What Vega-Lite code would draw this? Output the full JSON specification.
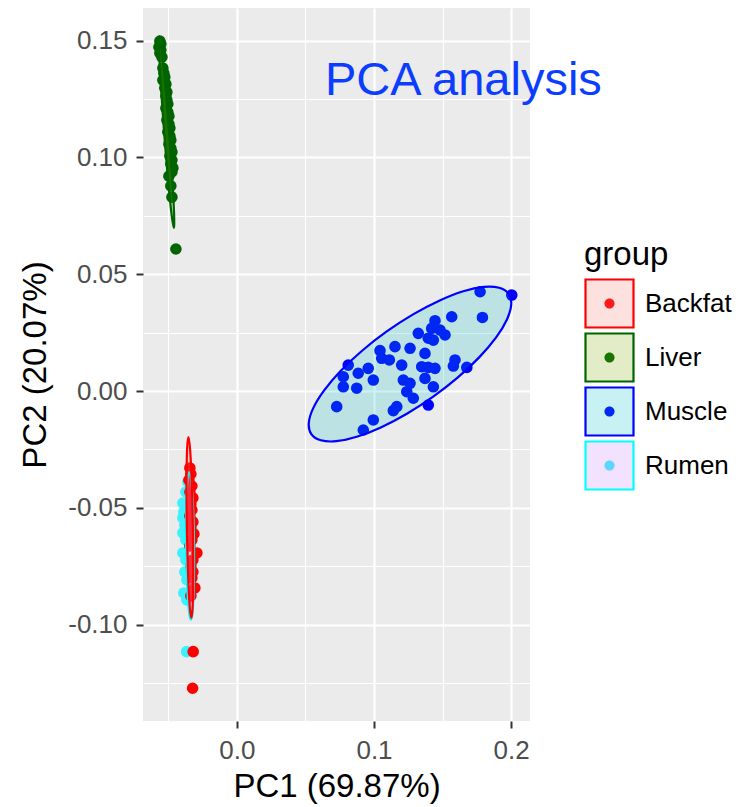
{
  "$schema": "https://vega.github.io/schema/vega-lite/v6.json",
  "width": 387,
  "height": 713,
  "autosize": "none",
  "padding": {"left": 143, "top": 8, "right": 210, "bottom": 86},
  "config": {"view": {"fill": "#EBEBEB", "stroke": null}, "font": "Liberation Sans"},
  "datasets": {
    "points": [
      {"group": "Liver", "PC1": -0.0562, "PC2": 0.1498},
      {"group": "Liver", "PC1": -0.0555, "PC2": 0.1486},
      {"group": "Liver", "PC1": -0.0569, "PC2": 0.1473},
      {"group": "Liver", "PC1": -0.0555, "PC2": 0.1460},
      {"group": "Liver", "PC1": -0.0562, "PC2": 0.1447},
      {"group": "Liver", "PC1": -0.0547, "PC2": 0.1430},
      {"group": "Liver", "PC1": -0.0540, "PC2": 0.1383},
      {"group": "Liver", "PC1": -0.0533, "PC2": 0.1361},
      {"group": "Liver", "PC1": -0.0526, "PC2": 0.1344},
      {"group": "Liver", "PC1": -0.0540, "PC2": 0.1331},
      {"group": "Liver", "PC1": -0.0518, "PC2": 0.1314},
      {"group": "Liver", "PC1": -0.0526, "PC2": 0.1297},
      {"group": "Liver", "PC1": -0.0511, "PC2": 0.1280},
      {"group": "Liver", "PC1": -0.0518, "PC2": 0.1263},
      {"group": "Liver", "PC1": -0.0511, "PC2": 0.1246},
      {"group": "Liver", "PC1": -0.0504, "PC2": 0.1229},
      {"group": "Liver", "PC1": -0.0518, "PC2": 0.1211},
      {"group": "Liver", "PC1": -0.0504, "PC2": 0.1194},
      {"group": "Liver", "PC1": -0.0496, "PC2": 0.1177},
      {"group": "Liver", "PC1": -0.0511, "PC2": 0.1160},
      {"group": "Liver", "PC1": -0.0496, "PC2": 0.1143},
      {"group": "Liver", "PC1": -0.0489, "PC2": 0.1126},
      {"group": "Liver", "PC1": -0.0504, "PC2": 0.1109},
      {"group": "Liver", "PC1": -0.0489, "PC2": 0.1092},
      {"group": "Liver", "PC1": -0.0482, "PC2": 0.1074},
      {"group": "Liver", "PC1": -0.0496, "PC2": 0.1057},
      {"group": "Liver", "PC1": -0.0482, "PC2": 0.1040},
      {"group": "Liver", "PC1": -0.0474, "PC2": 0.1023},
      {"group": "Liver", "PC1": -0.0489, "PC2": 0.1006},
      {"group": "Liver", "PC1": -0.0474, "PC2": 0.0989},
      {"group": "Liver", "PC1": -0.0482, "PC2": 0.0972},
      {"group": "Liver", "PC1": -0.0467, "PC2": 0.0955},
      {"group": "Liver", "PC1": -0.0474, "PC2": 0.0938},
      {"group": "Liver", "PC1": -0.0496, "PC2": 0.0920},
      {"group": "Liver", "PC1": -0.0482, "PC2": 0.0878},
      {"group": "Liver", "PC1": -0.0474, "PC2": 0.0830},
      {"group": "Liver", "PC1": -0.0445, "PC2": 0.0608},
      {"group": "Muscle", "PC1": 0.1774, "PC2": 0.0425},
      {"group": "Muscle", "PC1": 0.2005, "PC2": 0.0411},
      {"group": "Muscle", "PC1": 0.1567, "PC2": 0.0318},
      {"group": "Muscle", "PC1": 0.1791, "PC2": 0.0315},
      {"group": "Muscle", "PC1": 0.1445, "PC2": 0.0301},
      {"group": "Muscle", "PC1": 0.1421, "PC2": 0.0268},
      {"group": "Muscle", "PC1": 0.1482, "PC2": 0.0261},
      {"group": "Muscle", "PC1": 0.1518, "PC2": 0.0240},
      {"group": "Muscle", "PC1": 0.1323, "PC2": 0.0247},
      {"group": "Muscle", "PC1": 0.1396, "PC2": 0.0226},
      {"group": "Muscle", "PC1": 0.1433, "PC2": 0.0218},
      {"group": "Muscle", "PC1": 0.1263, "PC2": 0.0183},
      {"group": "Muscle", "PC1": 0.1372, "PC2": 0.0161},
      {"group": "Muscle", "PC1": 0.1153, "PC2": 0.0190},
      {"group": "Muscle", "PC1": 0.1044, "PC2": 0.0173},
      {"group": "Muscle", "PC1": 0.1056, "PC2": 0.0140},
      {"group": "Muscle", "PC1": 0.1112, "PC2": 0.0133},
      {"group": "Muscle", "PC1": 0.1202, "PC2": 0.0111},
      {"group": "Muscle", "PC1": 0.1591, "PC2": 0.0133},
      {"group": "Muscle", "PC1": 0.1579, "PC2": 0.0107},
      {"group": "Muscle", "PC1": 0.1677, "PC2": 0.0101},
      {"group": "Muscle", "PC1": 0.1348, "PC2": 0.0104},
      {"group": "Muscle", "PC1": 0.1396, "PC2": 0.0101},
      {"group": "Muscle", "PC1": 0.1445, "PC2": 0.0097},
      {"group": "Muscle", "PC1": 0.1372, "PC2": 0.0054},
      {"group": "Muscle", "PC1": 0.0812, "PC2": 0.0111},
      {"group": "Muscle", "PC1": 0.0776, "PC2": 0.0061},
      {"group": "Muscle", "PC1": 0.0885, "PC2": 0.0076},
      {"group": "Muscle", "PC1": 0.0958, "PC2": 0.0097},
      {"group": "Muscle", "PC1": 0.0995, "PC2": 0.0047},
      {"group": "Muscle", "PC1": 0.0776, "PC2": 0.0018},
      {"group": "Muscle", "PC1": 0.0874, "PC2": 0.0012},
      {"group": "Muscle", "PC1": 0.1214, "PC2": 0.0047},
      {"group": "Muscle", "PC1": 0.1263, "PC2": 0.0033},
      {"group": "Muscle", "PC1": 0.1239, "PC2": -0.0003},
      {"group": "Muscle", "PC1": 0.1287, "PC2": -0.0031},
      {"group": "Muscle", "PC1": 0.1433, "PC2": 0.0018},
      {"group": "Muscle", "PC1": 0.1396, "PC2": -0.0060},
      {"group": "Muscle", "PC1": 0.0728, "PC2": -0.0067},
      {"group": "Muscle", "PC1": 0.1166, "PC2": -0.0067},
      {"group": "Muscle", "PC1": 0.1141, "PC2": -0.0084},
      {"group": "Muscle", "PC1": 0.0995, "PC2": -0.0124},
      {"group": "Muscle", "PC1": 0.0922, "PC2": -0.0167},
      {"group": "Rumen", "PC1": -0.03577, "PC2": -0.03896},
      {"group": "Rumen", "PC1": -0.03723, "PC2": -0.04324},
      {"group": "Rumen", "PC1": -0.03942, "PC2": -0.04795},
      {"group": "Rumen", "PC1": -0.03869, "PC2": -0.05180},
      {"group": "Rumen", "PC1": -0.03942, "PC2": -0.05437},
      {"group": "Rumen", "PC1": -0.03796, "PC2": -0.05736},
      {"group": "Rumen", "PC1": -0.03942, "PC2": -0.06079},
      {"group": "Rumen", "PC1": -0.03723, "PC2": -0.06378},
      {"group": "Rumen", "PC1": -0.03942, "PC2": -0.06935},
      {"group": "Rumen", "PC1": -0.03723, "PC2": -0.07235},
      {"group": "Rumen", "PC1": -0.03796, "PC2": -0.07748},
      {"group": "Rumen", "PC1": -0.03650, "PC2": -0.08091},
      {"group": "Rumen", "PC1": -0.03869, "PC2": -0.08647},
      {"group": "Rumen", "PC1": -0.03650, "PC2": -0.08947},
      {"group": "Rumen", "PC1": -0.03672, "PC2": -0.11160},
      {"group": "Backfat", "PC1": -0.03431, "PC2": -0.03296},
      {"group": "Backfat", "PC1": -0.03358, "PC2": -0.03553},
      {"group": "Backfat", "PC1": -0.03504, "PC2": -0.03810},
      {"group": "Backfat", "PC1": -0.03285, "PC2": -0.04067},
      {"group": "Backfat", "PC1": -0.03431, "PC2": -0.04324},
      {"group": "Backfat", "PC1": -0.03212, "PC2": -0.04580},
      {"group": "Backfat", "PC1": -0.03358, "PC2": -0.04837},
      {"group": "Backfat", "PC1": -0.03285, "PC2": -0.05094},
      {"group": "Backfat", "PC1": -0.03431, "PC2": -0.05351},
      {"group": "Backfat", "PC1": -0.03212, "PC2": -0.05608},
      {"group": "Backfat", "PC1": -0.03358, "PC2": -0.05865},
      {"group": "Backfat", "PC1": -0.03139, "PC2": -0.06122},
      {"group": "Backfat", "PC1": -0.03285, "PC2": -0.06378},
      {"group": "Backfat", "PC1": -0.03431, "PC2": -0.06635},
      {"group": "Backfat", "PC1": -0.02920, "PC2": -0.06935},
      {"group": "Backfat", "PC1": -0.03212, "PC2": -0.07235},
      {"group": "Backfat", "PC1": -0.03358, "PC2": -0.07491},
      {"group": "Backfat", "PC1": -0.03212, "PC2": -0.07748},
      {"group": "Backfat", "PC1": -0.03285, "PC2": -0.08005},
      {"group": "Backfat", "PC1": -0.03066, "PC2": -0.08433},
      {"group": "Backfat", "PC1": -0.03358, "PC2": -0.08776},
      {"group": "Backfat", "PC1": -0.03190, "PC2": -0.11160},
      {"group": "Backfat", "PC1": -0.03234, "PC2": -0.12727}
    ],
    "ellipses": [
      {"group": "Muscle", "i": 0, "PC1": 0.1982, "PC2": 0.04165},
      {"group": "Muscle", "i": 1, "PC1": 0.2001, "PC2": 0.03703},
      {"group": "Muscle", "i": 2, "PC1": 0.1970, "PC2": 0.03065},
      {"group": "Muscle", "i": 3, "PC1": 0.1891, "PC2": 0.02295},
      {"group": "Muscle", "i": 4, "PC1": 0.1769, "PC2": 0.01451},
      {"group": "Muscle", "i": 5, "PC1": 0.1612, "PC2": 0.00586},
      {"group": "Muscle", "i": 6, "PC1": 0.1432, "PC2": -0.00240},
      {"group": "Muscle", "i": 7, "PC1": 0.1240, "PC2": -0.00972},
      {"group": "Muscle", "i": 8, "PC1": 0.1050, "PC2": -0.01558},
      {"group": "Muscle", "i": 9, "PC1": 0.0874, "PC2": -0.01961},
      {"group": "Muscle", "i": 10, "PC1": 0.0725, "PC2": -0.02149},
      {"group": "Muscle", "i": 11, "PC1": 0.0612, "PC2": -0.02110},
      {"group": "Muscle", "i": 12, "PC1": 0.0544, "PC2": -0.01854},
      {"group": "Muscle", "i": 13, "PC1": 0.0524, "PC2": -0.01391},
      {"group": "Muscle", "i": 14, "PC1": 0.0555, "PC2": -0.00753},
      {"group": "Muscle", "i": 15, "PC1": 0.0635, "PC2": 0.00017},
      {"group": "Muscle", "i": 16, "PC1": 0.0756, "PC2": 0.00860},
      {"group": "Muscle", "i": 17, "PC1": 0.0913, "PC2": 0.01725},
      {"group": "Muscle", "i": 18, "PC1": 0.1093, "PC2": 0.02551},
      {"group": "Muscle", "i": 19, "PC1": 0.1285, "PC2": 0.03283},
      {"group": "Muscle", "i": 20, "PC1": 0.1476, "PC2": 0.03866},
      {"group": "Muscle", "i": 21, "PC1": 0.1651, "PC2": 0.04270},
      {"group": "Muscle", "i": 22, "PC1": 0.1801, "PC2": 0.04461},
      {"group": "Muscle", "i": 23, "PC1": 0.1913, "PC2": 0.04422},
      {"group": "Liver", "i": 0, "PC1": -0.0460, "PC2": 0.0698},
      {"group": "Liver", "i": 1, "PC1": -0.0458, "PC2": 0.0753},
      {"group": "Liver", "i": 2, "PC1": -0.0471, "PC2": 0.0904},
      {"group": "Liver", "i": 3, "PC1": -0.0495, "PC2": 0.1110},
      {"group": "Liver", "i": 4, "PC1": -0.0523, "PC2": 0.1315},
      {"group": "Liver", "i": 5, "PC1": -0.0550, "PC2": 0.1465},
      {"group": "Liver", "i": 6, "PC1": -0.0566, "PC2": 0.1520},
      {"group": "Liver", "i": 7, "PC1": -0.0568, "PC2": 0.1464},
      {"group": "Liver", "i": 8, "PC1": -0.0555, "PC2": 0.1313},
      {"group": "Liver", "i": 9, "PC1": -0.0531, "PC2": 0.1108},
      {"group": "Liver", "i": 10, "PC1": -0.0502, "PC2": 0.0902},
      {"group": "Liver", "i": 11, "PC1": -0.0476, "PC2": 0.0753},
      {"group": "Rumen", "i": 0, "PC1": -0.03358, "PC2": -0.09803},
      {"group": "Rumen", "i": 1, "PC1": -0.03219, "PC2": -0.09379},
      {"group": "Rumen", "i": 2, "PC1": -0.03139, "PC2": -0.08219},
      {"group": "Rumen", "i": 3, "PC1": -0.03128, "PC2": -0.06635},
      {"group": "Rumen", "i": 4, "PC1": -0.03197, "PC2": -0.05051},
      {"group": "Rumen", "i": 5, "PC1": -0.03328, "PC2": -0.03891},
      {"group": "Rumen", "i": 6, "PC1": -0.03482, "PC2": -0.03467},
      {"group": "Rumen", "i": 7, "PC1": -0.03620, "PC2": -0.03891},
      {"group": "Rumen", "i": 8, "PC1": -0.03701, "PC2": -0.05051},
      {"group": "Rumen", "i": 9, "PC1": -0.03712, "PC2": -0.06635},
      {"group": "Rumen", "i": 10, "PC1": -0.03642, "PC2": -0.08219},
      {"group": "Rumen", "i": 11, "PC1": -0.03511, "PC2": -0.09379},
      {"group": "Backfat", "i": 0, "PC1": -0.03321, "PC2": -0.09717},
      {"group": "Backfat", "i": 1, "PC1": -0.03226, "PC2": -0.09199},
      {"group": "Backfat", "i": 2, "PC1": -0.03186, "PC2": -0.07780},
      {"group": "Backfat", "i": 3, "PC1": -0.03212, "PC2": -0.05843},
      {"group": "Backfat", "i": 4, "PC1": -0.03296, "PC2": -0.03906},
      {"group": "Backfat", "i": 5, "PC1": -0.03416, "PC2": -0.02487},
      {"group": "Backfat", "i": 6, "PC1": -0.03540, "PC2": -0.01969},
      {"group": "Backfat", "i": 7, "PC1": -0.03635, "PC2": -0.02487},
      {"group": "Backfat", "i": 8, "PC1": -0.03675, "PC2": -0.03906},
      {"group": "Backfat", "i": 9, "PC1": -0.03650, "PC2": -0.05843},
      {"group": "Backfat", "i": 10, "PC1": -0.03566, "PC2": -0.07780},
      {"group": "Backfat", "i": 11, "PC1": -0.03445, "PC2": -0.09199}
    ],
    "annotation": [
      {"label": "PCA analysis", "PC1": 0.0642, "PC2": 0.1267}
    ]
  },
  "layer": [
    {
      "data": {"name": "points"},
      "mark": {"type": "circle", "size": 135, "opacity": 1, "strokeWidth": 2.2},
      "encoding": {
        "x": {"field": "PC1", "type": "quantitative",
          "scale": {"domain": [-0.0685, 0.2138], "nice": false, "zero": false},
          "axis": {"orient": "bottom", "values": [0, 0.1, 0.2], "format": ".1f", "title": "PC1 (69.87%)", "grid": true, "gridColor": "white", "gridWidth": 2.2, "domain": false, "ticks": true, "tickColor": "#333333", "tickSize": 7, "tickWidth": 2, "labelFontSize": 26, "labelColor": "#4D4D4D", "labelPadding": 9, "titleFontSize": 33, "titleFontWeight": "normal", "titleColor": "black", "titlePadding": 7}},
        "y": {"field": "PC2", "type": "quantitative",
          "scale": {"domain": [-0.1413, 0.1640], "nice": false, "zero": false},
          "axis": {"orient": "left", "values": [-0.1, -0.05, 0, 0.05, 0.1, 0.15], "labelExpr": "datum.value < 0 ? '-' + format(-datum.value, '.2f') : format(datum.value, '.2f')", "title": "PC2 (20.07%)", "grid": true, "gridColor": "white", "gridWidth": 2.2, "domain": false, "ticks": true, "tickColor": "#333333", "tickSize": 7, "tickWidth": 2, "labelFontSize": 26, "labelColor": "#4D4D4D", "labelPadding": 9, "titleFontSize": 33, "titleFontWeight": "normal", "titleColor": "black", "titlePadding": 15}},
        "color": {"field": "group", "type": "nominal",
          "scale": {"range": ["#FF0000", "#006400", "#0000FF", "#3DF0FF"]},
          "legend": {"title": "group", "orient": "none", "legendX": 441, "legendY": 231, "padding": 0,
            "symbolType": "M-1,-1M1,1M-0.21,0A0.21,0.21,0,1,1,0.21,0A0.21,0.21,0,1,1,-0.21,0Z",
            "symbolSize": 2304, "symbolStrokeWidth": 2.2, "symbolStrokeColor": "transparent", "symbolOpacity": 1,
            "titleFontSize": 33, "titleFontWeight": "normal", "titleOpacity": 0, "titlePadding": 6,
            "labelFontSize": 26, "labelOpacity": 0, "labelOffset": 10, "rowPadding": -9}}
      }
    },
    {
      "data": {"name": "ellipses"},
      "mark": {"type": "line", "interpolate": "cardinal-closed", "strokeWidth": 2.2, "fillOpacity": 0.2, "strokeJoin": "round"},
      "encoding": {
        "x": {"field": "PC1", "type": "quantitative",
          "axis": {"orient": "top", "values": [-0.05, 0.05, 0.15], "grid": true, "gridColor": "white", "gridWidth": 1.1, "labels": false, "ticks": false, "domain": false, "title": null}},
        "y": {"field": "PC2", "type": "quantitative",
          "axis": {"orient": "right", "values": [-0.125, -0.075, -0.025, 0.025, 0.075, 0.125], "grid": true, "gridColor": "white", "gridWidth": 1.1, "labels": false, "ticks": false, "domain": false, "title": null}},
        "order": {"field": "i", "type": "quantitative"},
        "fill": {"field": "group", "type": "nominal",
          "scale": {"domain": ["Backfat", "Liver", "Muscle", "Rumen"], "range": ["#F8766D", "#7CAE00", "#00BFC4", "#C77CFF"]},
          "legend": {"title": "group", "orient": "none", "legendX": 441, "legendY": 231, "padding": 0,
            "symbolType": "square", "symbolSize": 2304, "symbolStrokeWidth": 2.2,
            "titleFontSize": 33, "titleFontWeight": "normal", "titleColor": "black", "titlePadding": 6,
            "labelFontSize": 26, "labelColor": "black", "labelOffset": 10, "rowPadding": -9,
            "encode": {"symbols": {"update": {"fillOpacity": {"value": 0.22}}}}}},
        "stroke": {"field": "group", "type": "nominal",
          "scale": {"domain": ["Backfat", "Liver", "Muscle", "Rumen"], "range": ["#FF0000", "#006400", "#0000FF", "#00FFFF"]},
          "legend": {"title": "group", "orient": "none", "legendX": 441, "legendY": 231, "padding": 0,
            "symbolType": "square", "symbolSize": 2304, "symbolStrokeWidth": 2.2,
            "titleFontSize": 33, "titleFontWeight": "normal", "titleColor": "black", "titlePadding": 6,
            "labelFontSize": 26, "labelColor": "black", "labelOffset": 10, "rowPadding": -9,
            "encode": {"symbols": {"update": {"fillOpacity": {"value": 0.22}}}}}}
      }
    },
    {
      "data": {"name": "annotation"},
      "mark": {"type": "text", "align": "left", "baseline": "alphabetic", "fontSize": 47, "color": "#0B3DFF"},
      "encoding": {
        "x": {"field": "PC1", "type": "quantitative", "axis": null},
        "y": {"field": "PC2", "type": "quantitative", "axis": null},
        "text": {"field": "label"}
      }
    }
  ]
}
